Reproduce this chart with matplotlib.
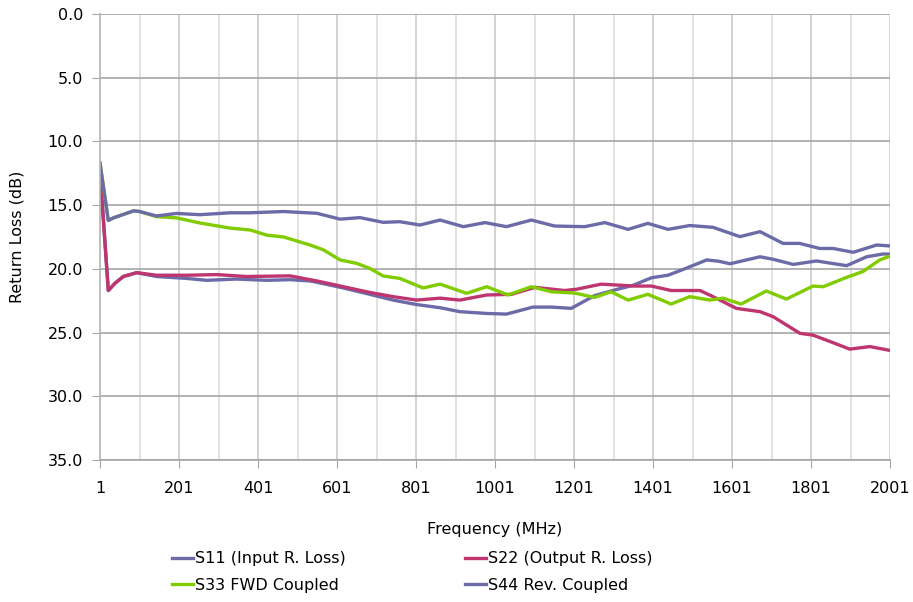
import matplotlib.pyplot as plt
from matplotlib.ticker import MultipleLocator

# data (frequency in MHz, return loss in dB)
f_s11 = [1, 22, 40, 60, 94, 144, 220, 271, 347, 423, 482, 533, 550, 617, 684, 743,
         802, 862, 912, 980, 1030, 1097, 1144, 1194, 1253, 1311, 1350, 1397, 1439,
         1481, 1537, 1567, 1596, 1672, 1705, 1756, 1815, 1891, 1942, 1984, 2001]
s11 = [12.2, 21.7, 21.1, 20.6, 20.3, 20.6, 20.75, 20.9, 20.8, 20.9, 20.85, 20.95,
       21.05, 21.5, 22.0, 22.45, 22.8, 23.05, 23.36, 23.5, 23.55, 23.0, 23.0, 23.1,
       22.1, 21.6, 21.3, 20.7, 20.5, 20.0, 19.3, 19.4, 19.6, 19.05, 19.25, 19.65,
       19.38, 19.75, 19.05, 18.83, 18.85]

f_s22 = [1, 22, 40, 60, 94, 144, 220, 296, 372, 482, 550, 617, 684, 743, 802, 862,
         912, 980, 1043, 1102, 1177, 1207, 1270, 1355, 1397, 1447, 1520, 1553, 1612,
         1672, 1705, 1773, 1806, 1849, 1899, 1950, 2001]
s22 = [12.4, 21.7, 21.1, 20.6, 20.3, 20.5, 20.5, 20.45, 20.6, 20.55, 20.95, 21.4,
       21.85, 22.18, 22.45, 22.3, 22.45, 22.05, 22.0, 21.45, 21.7, 21.6, 21.2, 21.35,
       21.35, 21.7, 21.7, 22.18, 23.1, 23.36, 23.75, 25.06, 25.2, 25.7, 26.3, 26.1,
       26.4]

f_s33 = [1, 22, 35, 86, 101, 144, 195, 254, 330, 381, 423, 466, 533, 566, 609, 651,
         684, 718, 760, 819, 862, 929, 980, 1034, 1093, 1144, 1203, 1253, 1295, 1338,
         1388, 1447, 1494, 1545, 1578, 1624, 1688, 1739, 1806, 1832, 1891, 1933, 1975,
         2001]
s33 = [11.7, 16.2, 16.0, 15.45, 15.5, 15.9, 16.0, 16.4, 16.8, 16.95, 17.35, 17.5,
       18.13, 18.5, 19.3, 19.57, 19.96, 20.56, 20.75, 21.5, 21.2, 21.92, 21.4, 22.05,
       21.4, 21.8, 21.9, 22.24, 21.8, 22.45, 22.0, 22.76, 22.18, 22.45, 22.3, 22.76,
       21.74, 22.37, 21.35, 21.4, 20.67, 20.2, 19.3, 19.0]

f_s44 = [1, 22, 35, 86, 101, 144, 195, 254, 330, 381, 466, 550, 609, 659, 718, 760,
         811, 862, 921, 976, 1030, 1093, 1152, 1228, 1279, 1338, 1388, 1439, 1494,
         1553, 1621, 1672, 1730, 1772, 1823, 1857, 1908, 1967, 2001]
s44 = [11.7, 16.2, 16.0, 15.45, 15.5, 15.85, 15.65, 15.75, 15.6, 15.6, 15.5, 15.64,
       16.1, 15.98, 16.35, 16.3, 16.56, 16.17, 16.69, 16.37, 16.69, 16.17, 16.64,
       16.69, 16.37, 16.9, 16.43, 16.9, 16.6, 16.74, 17.47, 17.08, 18.0, 18.0, 18.4,
       18.4, 18.7, 18.13, 18.2]

names = ['S11 (Input R. Loss)', 'S22 (Output R. Loss)', 'S33 FWD Coupled', 'S44 Rev. Coupled']
colors = ['#6b6ba8', '#be3570', '#80cc00', '#6b6ba8']

fig = plt.figure(figsize=(9.13, 6.02), dpi=100)
ax = fig.add_axes([100 / 913, 142 / 602, 790 / 913, 446 / 602])

l11, = ax.plot(f_s11, s11, color=colors[0], lw=2.4, solid_joinstyle='round')
l22, = ax.plot(f_s22, s22, color=colors[1], lw=2.4, solid_joinstyle='round')
l33, = ax.plot(f_s33, s33, color=colors[2], lw=2.4, solid_joinstyle='round')
l44, = ax.plot(f_s44, s44, color=colors[3], lw=2.4, solid_joinstyle='round')

ax.set_xlim(1, 2001)
ax.set_ylim(35, 0)
ax.xaxis.set_major_locator(MultipleLocator(200, offset=1))
ax.xaxis.set_minor_locator(MultipleLocator(100, offset=1))
ax.yaxis.set_major_locator(MultipleLocator(5))
ax.yaxis.set_major_formatter(lambda v, p: f'{v:.1f}')

ax.grid(True, axis='y', which='major', color='#a6a6a6', lw=1.2)
ax.grid(True, axis='x', which='major', color='#cccccc', lw=1.2)
ax.grid(True, axis='x', which='minor', color='#dddddd', lw=1.2)
ax.set_axisbelow(True)

for s in ['top', 'right']:
    ax.spines[s].set_visible(False)
ax.spines['left'].set_color('#b5b5b5')
ax.spines['bottom'].set_color('#a6a6a6')
ax.spines['left'].set_linewidth(1.2)
ax.spines['bottom'].set_linewidth(1.2)
ax.tick_params(which='major', length=6, color='#a6a6a6', labelsize=11.5, pad=6)
ax.tick_params(axis='x', which='minor', length=0)
ax.tick_params(axis='x', pad=9)

ax.set_xlabel('Frequency (MHz)', fontsize=11.5, labelpad=19)
ax.set_ylabel('Return Loss (dB)', fontsize=11.5, labelpad=17)

# legend fills by column, so order S11, S33 | S22, S44
fig.legend([l11, l33, l22, l44], [names[0], names[2], names[1], names[3]],
           loc='upper left', bbox_to_anchor=(166 / 913, 1 - 545 / 602), ncol=2,
           frameon=False, fontsize=11.5, handlelength=1.3, handletextpad=0.1,
           columnspacing=7.5, labelspacing=0.72, borderaxespad=0)

fig.savefig('out.png', dpi=100)
